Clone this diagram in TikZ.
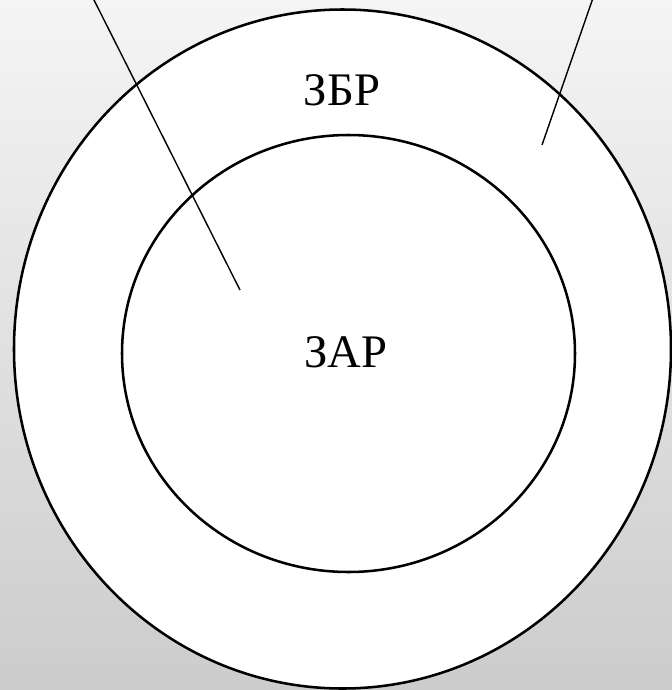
\documentclass[tikz,border=0pt]{standalone}
\usepackage{fontspec}
\setmainfont{Liberation Serif}
\usetikzlibrary{shapes.geometric}
\begin{document}
\begin{tikzpicture}[x=0.75pt,y=-0.75pt,
  ring/.style={ellipse, draw=black, fill=white, line width=1.9pt, inner sep=0pt},
  label/.style={font=\fontsize{35}{40}\selectfont, inner sep=0pt},
  pointer/.style={draw=black, line width=1.05pt}]
\shade[top color=black!4, bottom color=black!20] (0,0) rectangle (672,690);
\useasboundingbox (0,0) rectangle (672,690);
\node[ring, minimum width=492.75pt, minimum height=509.25pt] (outer) at (342.5,349) {};
\node[ring, minimum width=339.75pt, minimum height=327.75pt] (inner) at (348.5,353.5) {};
\node[label] (zbr) at (342,90) {ЗБР};
\node[label] (zar) at (346,352) {ЗАР};
\coordinate (p1a) at (93,-2);
\coordinate (p1b) at (240,290);
\coordinate (p2a) at (593,-2);
\coordinate (p2b) at (542,145);
\draw[pointer] (p1a) -- (p1b);
\draw[pointer] (p2a) -- (p2b);
\end{tikzpicture}
\end{document}
